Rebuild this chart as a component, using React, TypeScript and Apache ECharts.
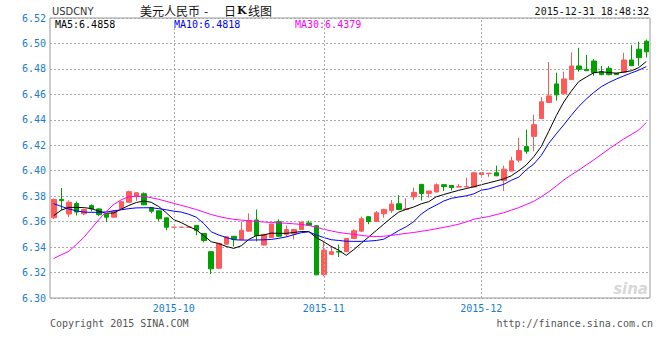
import React, { useEffect, useRef } from 'react';
import * as echarts from 'echarts';

// trading-day slots per month (Oct holiday slots drawn as flat candles)
const sepDays = [9, 10, 11, 14, 15, 16, 17, 18, 21, 22, 23, 24, 25, 28, 29, 30];
const octDays = [1, 2, 5, 8, 9, 12, 13, 14, 15, 16, 19, 20, 21, 22, 23, 26, 27, 28, 29, 30];
const novDays = [2, 3, 4, 5, 6, 9, 10, 11, 12, 13, 16, 17, 18, 19, 20, 23, 24, 25, 26, 27, 30];
const decDays = [1, 2, 3, 4, 7, 8, 9, 10, 11, 14, 15, 16, 17, 18, 21, 22, 23, 24, 25, 28, 29, 30, 31];
const monthTicks = ['2015-10-01', '2015-11-02', '2015-12-01'];

const opens = [
  6.3630, 6.3775, 6.3660, 6.3742, 6.3661, 6.3726, 6.3700, 6.3658, 6.3635, 6.3700,
  6.3752, 6.3798, 6.3819, 6.3710, 6.3685, 6.3630, 6.3556, 6.3556, 6.3556, 6.3570,
  6.3507, 6.3364, 6.3234, 6.3423, 6.3485, 6.3460, 6.3525, 6.3613, 6.3416, 6.3476,
  6.3600, 6.3500, 6.3504, 6.3538, 6.3590, 6.3568, 6.3183, 6.3343, 6.3366, 6.3364,
  6.3468, 6.3525, 6.3639, 6.3602, 6.3662, 6.3688, 6.3740, 6.3695, 6.3795, 6.3893,
  6.3822, 6.3833, 6.3890, 6.3884, 6.3872, 6.3873, 6.3872, 6.3970, 6.3978, 6.3984,
  6.3923, 6.3997, 6.4083, 6.4190, 6.4270, 6.4410, 6.4536, 6.4682, 6.4604, 6.4716,
  6.4823, 6.4797, 6.4862, 6.4778, 6.4805, 6.4766, 6.4773, 6.4870, 6.4955, 6.5018,
];
const closes = [
  6.3775, 6.3765, 6.3752, 6.3675, 6.3695, 6.3700, 6.3655, 6.3635, 6.3682, 6.3757,
  6.3835, 6.3827, 6.3732, 6.3682, 6.3623, 6.3556, 6.3556, 6.3556, 6.3556, 6.3532,
  6.3452, 6.3229, 6.3429, 6.3481, 6.3462, 6.3532, 6.3610, 6.3490, 6.3500, 6.3582,
  6.3485, 6.3538, 6.3538, 6.3597, 6.3572, 6.3182, 6.3376, 6.3364, 6.3361, 6.3468,
  6.3528, 6.3623, 6.3602, 6.3670, 6.3696, 6.3738, 6.3695, 6.3700, 6.3830, 6.3821,
  6.3840, 6.3890, 6.3875, 6.3868, 6.3875, 6.3876, 6.3984, 6.3985, 6.3980, 6.3960,
  6.4012, 6.4078, 6.4159, 6.4153, 6.4362, 6.4541, 6.4588, 6.4596, 6.4721, 6.4823,
  6.4797, 6.4786, 6.4770, 6.4755, 6.4755, 6.4755, 6.4870, 6.4825, 6.4888, 6.4934,
];
const lows = [
  6.3620, 6.3690, 6.3635, 6.3648, 6.3650, 6.3680, 6.3643, 6.3596, 6.3632, 6.3698,
  6.3750, 6.3763, 6.3730, 6.3666, 6.3604, 6.3532, 6.3556, 6.3556, 6.3556, 6.3493,
  6.3437, 6.3188, 6.3226, 6.3420, 6.3405, 6.3458, 6.3522, 6.3445, 6.3413, 6.3473,
  6.3480, 6.3480, 6.3460, 6.3535, 6.3570, 6.3180, 6.3172, 6.3338, 6.3322, 6.3360,
  6.3465, 6.3520, 6.3580, 6.3600, 6.3630, 6.3668, 6.3693, 6.3693, 6.3769, 6.3766,
  6.3790, 6.3830, 6.3842, 6.3845, 6.3870, 6.3870, 6.3870, 6.3960, 6.3952, 6.3958,
  6.3841, 6.3995, 6.4067, 6.4133, 6.4153, 6.4405, 6.4533, 6.4551, 6.4600, 6.4714,
  6.4778, 6.4783, 6.4745, 6.4750, 6.4750, 6.4753, 6.4770, 6.4823, 6.4825, 6.4890,
];
const highs = [
  6.3780, 6.3865, 6.3767, 6.3757, 6.3702, 6.3735, 6.3705, 6.3660, 6.3690, 6.3760,
  6.3843, 6.3830, 6.3830, 6.3712, 6.3687, 6.3632, 6.3556, 6.3556, 6.3556, 6.3572,
  6.3510, 6.3366, 6.3432, 6.3483, 6.3487, 6.3602, 6.3665, 6.3695, 6.3502, 6.3585,
  6.3618, 6.3570, 6.3540, 6.3600, 6.3608, 6.3570, 6.3447, 6.3410, 6.3420, 6.3470,
  6.3540, 6.3640, 6.3640, 6.3683, 6.3702, 6.3770, 6.3808, 6.3784, 6.3867, 6.3895,
  6.3845, 6.3900, 6.3893, 6.3886, 6.3895, 6.3945, 6.3992, 6.3988, 6.3982, 6.4040,
  6.4040, 6.4110, 6.4258, 6.4323, 6.4440, 6.4578, 6.4854, 6.4770, 6.4778, 6.4930,
  6.4966, 6.4910, 6.4877, 6.4823, 6.4823, 6.4768, 6.4927, 6.4987, 6.5013, 6.5030,
];
const ma5 = [
  6.3648, 6.3690, 6.3712, 6.3712, 6.3710, 6.3703, 6.3682, 6.3666, 6.3668, 6.3698,
  6.3727, 6.3750, 6.3762, 6.3752, 6.3718, 6.3670, 6.3615, 6.3592, 6.3562, 6.3535,
  6.3490, 6.3442, 6.3428, 6.3405, 6.3390, 6.3410, 6.3460, 6.3490, 6.3495, 6.3510,
  6.3508, 6.3508, 6.3515, 6.3522, 6.3522, 6.3475, 6.3442, 6.3405, 6.3375, 6.3335,
  6.3380, 6.3430, 6.3480, 6.3530, 6.3580, 6.3630, 6.3675, 6.3697, 6.3715, 6.3740,
  6.3757, 6.3795, 6.3813, 6.3830, 6.3846, 6.3860, 6.3874, 6.3890, 6.3905, 6.3920,
  6.3936, 6.3960, 6.4000, 6.4045, 6.4110, 6.4190, 6.4310, 6.4432, 6.4540, 6.4625,
  6.4700, 6.4736, 6.4770, 6.4777, 6.4772, 6.4766, 6.4775, 6.4785, 6.4810, 6.4858,
];
const ma10 = [
  6.3741, 6.3720, 6.3700, 6.3685, 6.3675, 6.3673, 6.3673, 6.3676, 6.3685, 6.3693,
  6.3702, 6.3708, 6.3709, 6.3709, 6.3702, 6.3693, 6.3682, 6.3675, 6.3658, 6.3635,
  6.3585, 6.3520, 6.3495, 6.3475, 6.3458, 6.3455, 6.3455, 6.3456, 6.3457, 6.3460,
  6.3469, 6.3480, 6.3497, 6.3513, 6.3520, 6.3495, 6.3475, 6.3458, 6.3452, 6.3446,
  6.3445, 6.3445, 6.3447, 6.3452, 6.3462, 6.3495, 6.3530, 6.3560, 6.3600, 6.3660,
  6.3700, 6.3730, 6.3762, 6.3783, 6.3793, 6.3803, 6.3818, 6.3847, 6.3857, 6.3875,
  6.3893, 6.3925, 6.3950, 6.4008, 6.4052, 6.4120, 6.4215, 6.4290, 6.4360, 6.4435,
  6.4505, 6.4563, 6.4615, 6.4660, 6.4693, 6.4720, 6.4745, 6.4768, 6.4790, 6.4818,
];
const ma30 = [
  6.3310, 6.3340, 6.3366, 6.3420, 6.3475, 6.3545, 6.3615, 6.3680, 6.3735, 6.3772,
  6.3796, 6.3800, 6.3798, 6.3788, 6.3775, 6.3760, 6.3743, 6.3728, 6.3712, 6.3695,
  6.3675, 6.3656, 6.3640, 6.3628, 6.3618, 6.3612, 6.3607, 6.3602, 6.3597, 6.3594,
  6.3590, 6.3587, 6.3583, 6.3578, 6.3570, 6.3556, 6.3540, 6.3527, 6.3515, 6.3507,
  6.3500, 6.3492, 6.3485, 6.3483, 6.3485, 6.3492, 6.3500, 6.3508, 6.3515, 6.3524,
  6.3533, 6.3544, 6.3555, 6.3567, 6.3580, 6.3598, 6.3618, 6.3630, 6.3640, 6.3655,
  6.3670, 6.3690, 6.3710, 6.3735, 6.3760, 6.3795, 6.3835, 6.3880, 6.3927, 6.3967,
  6.4005, 6.4045, 6.4085, 6.4128, 6.4170, 6.4210, 6.4250, 6.4285, 6.4320, 6.4379,
];
const yMin = 6.3;
const yMax = 6.52;
const yStep = 0.02;

const pad = (n: number) => (n < 10 ? '0' + n : '' + n);
const categories: string[] = [
  ...sepDays.map((d) => '2015-09-' + pad(d)),
  ...octDays.map((d) => '2015-10-' + pad(d)),
  ...novDays.map((d) => '2015-11-' + pad(d)),
  ...decDays.map((d) => '2015-12-' + pad(d)),
];

const MONO = "'DejaVu Sans Mono', 'Liberation Mono', monospace";
const BLUE = '#1a7ccf';

export default function App() {
  const ref = useRef<HTMLDivElement>(null);
  useEffect(() => {
    if (!ref.current) return;
    const chart = echarts.init(ref.current, null, { renderer: 'svg' });
    const candles = opens.map((o, i) => [o, closes[i], lows[i], highs[i]]);
    const tickIdx = monthTicks.map((m) => categories.indexOf(m));
    const txt = (x: number, y: number, text: string, fill: string, font: string, align = 'left') => ({
      type: 'text',
      x,
      y,
      silent: true,
      style: { text, fill, font, textAlign: align, align, textVerticalAlign: 'middle', verticalAlign: 'middle' },
    });
    chart.setOption({
      animation: false,
      backgroundColor: '#fff',
      grid: { left: 50, right: 10, top: 18, bottom: 62, show: true, borderColor: '#999', borderWidth: 1 },
      xAxis: {
        type: 'category',
        data: categories,
        boundaryGap: true,
        axisLine: { show: false },
        axisTick: { show: false },
        splitLine: { show: false },
        axisLabel: {
          interval: (idx: number) => tickIdx.includes(idx),
          formatter: (v: string) => v.slice(0, 7),
          color: BLUE,
          fontFamily: MONO,
          fontSize: 10,
          margin: 5,
        },
      },
      yAxis: {
        type: 'value',
        min: yMin,
        max: yMax,
        interval: yStep,
        scale: true,
        axisLine: { show: false },
        axisTick: { show: false },
        axisLabel: {
          formatter: (v: number) => v.toFixed(2),
          color: BLUE,
          fontFamily: MONO,
          fontSize: 10,
          margin: 4,
        },
        splitLine: { lineStyle: { color: '#aaa', type: [2, 2], width: 1 } },
      },
      graphic: [
        txt(52, 11, 'USDCNY', '#333', "11px 'Liberation Sans Narrow', 'DejaVu Sans Condensed', sans-serif"),
        txt(140, 10, '美元人民币', '#111', "12px 'Noto Sans CJK SC', sans-serif"),
        txt(204, 10, '-', '#111', "12px 'Noto Sans CJK SC', sans-serif"),
        txt(224, 10, '日', '#111', "12px 'Noto Sans CJK SC', sans-serif"),
        txt(237, 10, 'K', '#111', "bold 11px 'DejaVu Serif', serif"),
        txt(248, 10, '线图', '#111', "12px 'Noto Sans CJK SC', sans-serif"),
        txt(649, 11, '2015-12-31 18:48:32', '#111', '10px ' + MONO, 'right'),
        txt(55, 24, 'MA5:6.4858', '#000', '10px ' + MONO),
        txt(174, 24, 'MA10:6.4818', '#0000ff', '10px ' + MONO),
        txt(295, 24, 'MA30:6.4379', '#ff00ff', '10px ' + MONO),
        txt(50, 323, 'Copyright 2015 SINA.COM', '#555', '10px ' + MONO),
        txt(653, 323, 'http://finance.sina.com.cn', '#555', '10px ' + MONO, 'right'),
        txt(648, 289, 'sina', '#d8d8d8', "italic bold 15px 'DejaVu Sans', sans-serif", 'right'),
      ],
      series: [
        {
          type: 'candlestick',
          data: candles,
          barWidth: 5,
          itemStyle: {
            color: '#ff5a5a',
            color0: '#00a000',
            borderColor: '#ff5a5a',
            borderColor0: '#00a000',
            borderWidth: 1,
          },
          markLine: {
            silent: true,
            symbol: ['none', 'none'],
            label: { show: false },
            lineStyle: { color: '#aaa', type: [2, 2], width: 1 },
            data: monthTicks.map((m) => ({ xAxis: m })),
          },
        },
        { type: 'line', data: ma5, showSymbol: false, lineStyle: { color: '#000', width: 1 }, itemStyle: { color: '#000' } },
        { type: 'line', data: ma10, showSymbol: false, lineStyle: { color: '#0000ff', width: 1 }, itemStyle: { color: '#0000ff' } },
        { type: 'line', data: ma30, showSymbol: false, lineStyle: { color: '#ff00ff', width: 1 }, itemStyle: { color: '#ff00ff' } },
      ],
    });
    return () => chart.dispose();
  }, []);
  return <div ref={ref} style={{ position: 'fixed', left: 0, top: 0, width: 660, height: 360 }} />;
}
